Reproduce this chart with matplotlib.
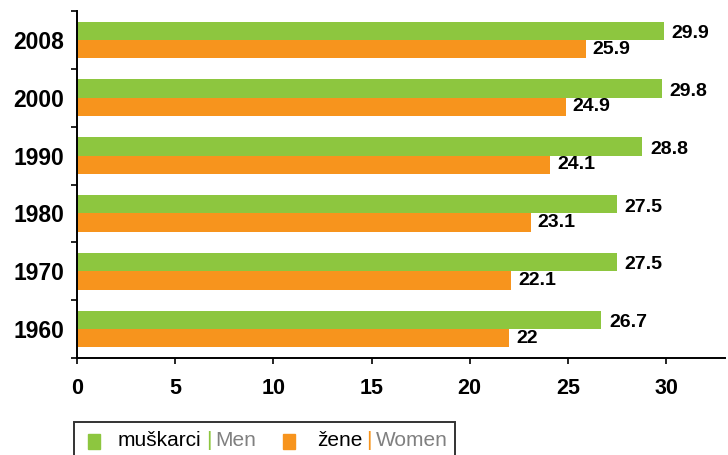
import matplotlib.pyplot as plt
import numpy as np

years = ["1960", "1970", "1980", "1990", "2000", "2008"]
men = [26.7, 27.5, 27.5, 28.8, 29.8, 29.9]
women = [22, 22.1, 23.1, 24.1, 24.9, 25.9]
xticks = [0, 5, 10, 15, 20, 25, 30]

green = "#8DC63F"
orange = "#F7941D"
grey = "#808080"

plt.rcParams['font.family'] = ['Liberation Sans', 'DejaVu Sans']

fig = plt.figure(figsize=(7.28, 4.55), dpi=100)
ax = fig.add_axes([0.1058, 0.2132, 0.89, 0.7626])

y = np.arange(len(years))
h = 0.316
ax.barh(y + h / 2, men, height=h, color=green)
ax.barh(y - h / 2, women, height=h, color=orange)

# value labels next to the bars
for i in range(len(years)):
    ax.annotate(f"{men[i]:g}", (men[i], y[i] + h / 2), xytext=(5.5, -2),
                textcoords="offset points", va="center", ha="left",
                fontsize=14, fontweight="bold")
    ax.annotate(f"{women[i]:g}", (women[i], y[i] - h / 2), xytext=(5, 0),
                textcoords="offset points", va="center", ha="left",
                fontsize=14, fontweight="bold")

ax.set_xlim(0, 33)
ax.set_ylim(-0.5, len(years) - 0.5)

ax.set_xticks(xticks)
ax.set_xticklabels([str(t) for t in xticks], fontsize=15.5, fontweight="bold")
ax.tick_params(axis="x", length=4.5, width=1.2, pad=10)

# ticks between categories, labels at the centres
ax.set_yticks(np.arange(-0.5, len(years), 1.0))
ax.set_yticklabels([])
ax.set_yticks(y, minor=True)
ax.set_yticklabels(years, minor=True, fontsize=16.5, fontweight="bold")
ax.tick_params(axis="y", which="major", length=4.5, width=1.2)
ax.tick_params(axis="y", which="minor", length=0, pad=9)

for s in ["top", "right"]:
    ax.spines[s].set_visible(False)
for s in ["left", "bottom"]:
    ax.spines[s].set_linewidth(1.4)

# legend, drawn by hand so each word gets its own colour
box = plt.Rectangle((74 / 728, -0.05), (455 - 74) / 728, (455 - 422) / 455 + 0.05,
                    transform=fig.transFigure, fill=False, edgecolor="#333333",
                    linewidth=1.4)
fig.add_artist(box)

ly = 1 - 441 / 455
fig.add_artist(plt.Rectangle((88 / 728, 1 - 449 / 455), 12 / 728, 15 / 455,
                             transform=fig.transFigure, color=green))
fig.add_artist(plt.Rectangle((283 / 728, 1 - 449 / 455), 12 / 728, 15 / 455,
                             transform=fig.transFigure, color=orange))

entries = [(118, "muškarci", green, "Men"), (317, "žene", orange, "Women")]
for x0, word, col, eng in entries:
    prev = fig.text(x0 / 728, ly, word, color="black", fontsize=15, va="center")
    for txt, c in [("|", col), (eng, grey)]:
        prev = ax.annotate(txt, xy=(1, 0.5), xycoords=prev, xytext=(3, 0),
                           textcoords="offset points", color=c, fontsize=15,
                           va="center", ha="left", annotation_clip=False)

fig.savefig("out.png", dpi=100)
